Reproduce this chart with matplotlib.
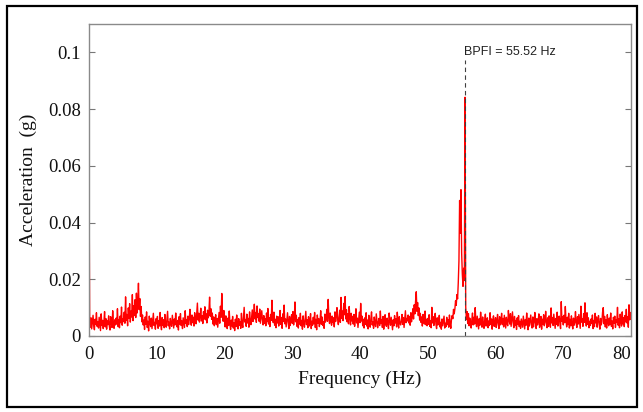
import numpy as np
import matplotlib.pyplot as plt
from matplotlib.patches import Rectangle

# ---------------------------------------------------------------
# Envelope spectrum values (in milli-g),
# one value every 0.1 Hz, split in 10 Hz blocks
# ---------------------------------------------------------------
amp_00_10 = [60.0, 5.2, 3.1, 6.4, 2.5, 4.8, 7.3, 3.6, 2.2, 5.9,
             4.1, 8.2, 3.4, 5.0, 2.8, 6.6, 4.3, 1.9, 7.8, 3.7,
             5.5, 2.6, 4.9, 8.6, 3.2, 6.1, 2.4, 5.3, 4.0, 7.1,
             3.5, 2.1, 6.8, 4.6, 3.0, 8.9, 4.4, 2.7, 5.7, 3.9,
             6.3, 4.2, 9.6, 3.3, 5.8, 2.9, 7.0, 4.7, 10.2, 3.8,
             6.0, 5.1, 8.4, 4.5, 13.8, 5.6, 7.6, 3.6, 9.9, 6.2,
             11.4, 4.9, 8.8, 6.7, 14.6, 5.4, 10.7, 7.2, 12.8, 6.5,
             15.1, 8.1, 11.9, 18.6, 9.3, 13.2, 6.9, 10.4, 5.0, 7.4,
             3.9, 5.6, 2.3, 6.7, 4.1, 8.5, 3.0, 5.2, 1.8, 7.0,
             4.6, 3.3, 6.3, 2.6, 5.1, 8.0, 3.7, 4.8, 2.4, 6.1]
amp_10_20 = [4.3, 6.9, 2.7, 5.4, 3.5, 8.3, 4.0, 2.2, 6.5, 3.8,
             5.7, 2.9, 7.6, 4.4, 3.1, 5.9, 8.7, 3.6, 4.9, 2.5,
             6.2, 4.1, 3.4, 7.3, 5.0, 2.8, 6.0, 3.9, 8.1, 4.6,
             3.2, 5.5, 2.1, 6.8, 4.2, 7.9, 3.7, 5.3, 2.6, 6.4,
             4.8, 3.0, 8.9, 4.5, 5.8, 3.3, 7.0, 4.0, 6.1, 9.4,
             5.2, 3.8, 7.4, 4.7, 6.6, 3.5, 8.2, 5.1, 4.3, 7.7,
             11.6, 5.6, 8.0, 4.9, 6.9, 9.8, 5.3, 7.2, 4.4, 8.6,
             6.0, 10.3, 5.7, 7.8, 4.6, 9.1, 6.4, 8.4, 13.7, 7.0,
             9.6, 5.9, 8.1, 4.2, 6.7, 3.6, 5.4, 7.5, 4.0, 6.2,
             3.1, 5.8, 8.3, 4.5, 10.5, 6.6, 15.0, 7.3, 5.2, 9.0]
amp_20_30 = [5.5, 3.2, 7.1, 4.0, 2.6, 6.3, 3.7, 8.8, 4.4, 2.3,
             5.6, 3.5, 6.9, 2.8, 4.7, 1.9, 5.9, 3.3, 7.4, 4.1,
             2.5, 6.1, 3.8, 5.0, 2.7, 8.0, 4.3, 3.0, 6.6, 10.1,
             4.9, 5.8, 3.4, 7.7, 4.6, 6.2, 3.1, 8.5, 5.3, 4.0,
             6.8, 9.2, 5.1, 7.3, 11.2, 6.0, 8.3, 4.8, 10.6, 6.5,
             7.9, 5.2, 9.5, 4.5, 6.7, 8.9, 5.7, 3.9, 7.2, 4.4,
             6.1, 3.6, 8.1, 5.0, 9.7, 4.2, 6.4, 3.3, 7.6, 5.5,
             12.6, 6.3, 4.7, 8.4, 3.8, 5.9, 2.9, 7.0, 4.6, 6.8,
             3.5, 5.4, 9.0, 4.1, 6.5, 2.7, 7.8, 5.1, 10.9, 4.3,
             6.0, 3.2, 5.6, 8.2, 4.9, 2.6, 6.9, 3.7, 5.3, 7.5]
amp_30_40 = [4.5, 8.6, 3.9, 6.2, 12.0, 5.0, 7.3, 3.4, 5.8, 2.8,
             6.5, 4.2, 8.0, 3.6, 5.5, 2.4, 7.1, 4.8, 3.1, 6.0,
             8.7, 4.0, 5.7, 2.9, 6.8, 3.5, 4.6, 7.9, 2.6, 5.2,
             3.8, 6.6, 4.3, 8.3, 3.0, 5.9, 2.2, 7.4, 4.5, 6.1,
             3.3, 5.4, 8.9, 4.1, 6.7, 3.7, 5.0, 2.7, 7.7, 4.9,
             6.3, 9.4, 5.2, 12.9, 6.9, 4.4, 8.1, 5.6, 3.8, 7.0,
             4.7, 6.4, 3.2, 8.5, 5.1, 7.2, 10.0, 5.8, 4.0, 6.6,
             9.1, 4.8, 13.6, 6.2, 8.8, 5.4, 11.5, 7.5, 13.9, 6.0,
             9.3, 5.0, 7.8, 4.3, 10.4, 6.7, 3.9, 8.0, 5.3, 6.9,
             4.2, 7.6, 3.4, 5.7, 9.6, 4.6, 6.3, 3.0, 5.5, 8.4]
amp_40_50 = [4.7, 11.5, 5.3, 7.0, 3.6, 5.9, 2.8, 6.4, 4.1, 8.2,
             3.5, 5.6, 2.5, 7.3, 4.4, 3.1, 6.1, 8.5, 3.9, 5.0,
             2.7, 6.7, 4.2, 3.3, 7.8, 5.4, 2.9, 4.8, 6.2, 3.7,
             8.8, 4.5, 5.8, 3.0, 6.9, 2.4, 5.2, 7.5, 4.0, 3.4,
             6.3, 4.9, 2.6, 8.1, 5.5, 3.8, 6.6, 4.3, 2.2, 5.7,
             3.6, 7.2, 4.6, 6.0, 3.2, 8.4, 5.1, 2.8, 6.8, 4.4,
             3.9, 5.3, 7.6, 4.1, 6.5, 3.0, 5.9, 8.9, 4.7, 6.2,
             5.3, 7.4, 4.6, 6.9, 3.8, 8.2, 5.0, 7.1, 9.6, 6.0,
             11.0, 7.8, 12.3, 15.6, 8.7, 11.8, 7.2, 9.9, 5.6, 8.0,
             4.8, 6.7, 3.5, 7.6, 5.2, 4.2, 8.8, 4.0, 5.9, 3.6]
amp_50_60 = [6.2, 4.1, 7.5, 3.4, 5.3, 2.9, 10.1, 4.6, 6.8, 3.7,
             5.6, 8.0, 4.3, 2.6, 6.4, 3.9, 5.1, 7.3, 3.2, 4.8,
             2.4, 6.0, 3.6, 5.4, 7.0, 2.8, 4.5, 3.3, 6.6, 4.0,
             5.7, 3.1, 7.4, 4.4, 2.7, 5.9, 7.2, 6.1, 9.4, 7.8,
             9.5, 12.4, 10.8, 14.6, 13.1, 18.7, 26.4, 47.8, 36.2, 51.6,
             29.3, 21.8, 17.5, 23.9, 19.6, 84.2, 10.3, 5.8, 8.6, 4.4,
             7.9, 3.6, 6.3, 4.9, 2.8, 5.7, 8.1, 3.9, 6.6, 4.2,
             10.0, 5.0, 3.3, 7.0, 4.6, 2.5, 6.1, 3.8, 8.4, 5.2,
             3.1, 6.7, 4.4, 2.7, 5.5, 7.7, 3.5, 4.8, 6.4, 2.9,
             5.3, 3.7, 8.2, 4.1, 6.0, 2.4, 5.6, 7.1, 3.4, 4.7]
amp_60_70 = [6.5, 3.0, 5.1, 7.6, 4.3, 2.6, 6.8, 3.9, 5.4, 8.0,
             4.0, 6.2, 3.2, 7.3, 5.0, 2.8, 6.6, 4.5, 3.6, 9.0,
             5.7, 4.2, 7.9, 3.4, 6.1, 8.5, 4.8, 2.9, 6.9, 3.7,
             5.5, 2.3, 6.4, 4.1, 7.2, 3.3, 5.2, 2.7, 6.0, 4.6,
             3.1, 7.0, 4.9, 2.5, 5.8, 3.8, 8.1, 4.4, 2.2, 6.3,
             3.5, 5.6, 7.4, 4.0, 2.8, 6.7, 3.2, 5.0, 8.3, 4.7,
             2.6, 6.1, 3.9, 5.4, 7.8, 3.0, 4.5, 6.9, 2.4, 5.9,
             4.2, 7.5, 3.6, 5.1, 8.7, 4.8, 2.9, 6.4, 3.4, 7.1,
             5.3, 3.1, 9.9, 4.6, 6.5, 3.7, 7.7, 5.0, 2.7, 6.2,
             4.1, 8.4, 3.5, 5.7, 7.0, 4.4, 2.6, 12.1, 5.2, 6.8]
amp_70_80 = [3.9, 7.3, 4.7, 10.4, 5.5, 3.2, 6.6, 4.0, 8.0, 2.8,
             5.9, 3.6, 7.1, 4.3, 2.5, 6.3, 3.8, 5.0, 8.6, 4.5,
             3.0, 6.8, 4.2, 7.6, 5.3, 2.7, 10.5, 4.9, 6.1, 3.4,
             7.9, 4.8, 11.7, 5.6, 3.5, 8.2, 4.1, 6.4, 2.9, 5.2,
             3.7, 6.0, 4.4, 7.4, 2.6, 5.5, 3.3, 8.0, 4.6, 6.7,
             3.1, 5.7, 7.2, 4.0, 2.4, 6.2, 3.9, 5.0, 8.4, 10.0,
             4.3, 6.9, 3.2, 5.8, 2.8, 7.5, 4.7, 3.6, 6.3, 4.1,
             8.1, 3.4, 5.3, 2.5, 6.6, 4.5, 7.0, 3.0, 5.6, 4.8,
             10.1, 3.8, 6.1, 2.9, 7.7, 5.1, 3.5, 8.5, 4.2, 6.4,
             3.3, 7.2, 5.0, 9.4, 4.6, 6.8, 3.1, 11.0, 5.7, 8.3,
             6.0]

amp_mg = (amp_00_10 + amp_10_20 + amp_20_30 + amp_30_40
          + amp_40_50 + amp_50_60 + amp_60_70 + amp_70_80)
accel = np.array(amp_mg) / 1000.0           # mg -> g
freq = np.linspace(0, 80, len(accel))        # 0.1 Hz bins

bpfi = 55.52
x_ticks = [0, 10, 20, 30, 40, 50, 60, 70, 80]
y_ticks = [0, 0.02, 0.04, 0.06, 0.08, 0.1]
y_tick_labels = ["0", "0.02", "0.04", "0.06", "0.08", "0.1"]

# ---------------------------------------------------------------
# Figure
# ---------------------------------------------------------------
fig = plt.figure(figsize=(6.43, 4.12), dpi=100)
ax = fig.add_axes([0.1384, 0.1845, 0.843, 0.757])

ax.plot(freq, accel, color="#ff0000", linewidth=1.0)
ax.plot([bpfi, bpfi], [0, 0.0975], color="#404040", linestyle=(0, (4, 3)),
        linewidth=0.8)
ax.text(bpfi - 0.1, 0.1, "BPFI = 55.52 Hz", family="Liberation Sans",
        fontsize=9, ha="left", va="center", color="#222222")

ax.set_xlim(0, 80)
ax.set_ylim(0, 0.11)
ax.set_xticks(x_ticks)
ax.set_yticks(y_ticks)
ax.set_yticklabels(y_tick_labels)
ax.set_xticks([20, 40, 60], minor=True)

serif = "Liberation Serif"
for lab in ax.get_xticklabels() + ax.get_yticklabels():
    lab.set_family(serif)
    lab.set_fontsize(13.5)
    lab.set_color("#111111")
ax.get_xticklabels()[-1].set_ha("right")

ax.tick_params(axis="x", which="major", length=0, pad=7)
ax.tick_params(axis="x", which="minor", direction="in", length=4,
               top=True, bottom=True, color="#777777")
ax.tick_params(axis="y", which="major", direction="in", length=4,
               left=True, right=True, pad=6, color="#777777")

for sp in ax.spines.values():
    sp.set_color("#8a8a8a")
    sp.set_linewidth(1.0)

ax.set_xlabel("Frequency (Hz)", family=serif, fontsize=14, color="#111111",
              labelpad=6)
ax.set_ylabel("Acceleration  (g)", family=serif, fontsize=14,
              color="#111111", labelpad=8)

# black frame around the whole figure
fig.patches.append(Rectangle((0.011, 0.012), 0.979, 0.973,
                             transform=fig.transFigure, fill=False,
                             edgecolor="black", linewidth=1.6))

fig.savefig("out.png", dpi=100)
